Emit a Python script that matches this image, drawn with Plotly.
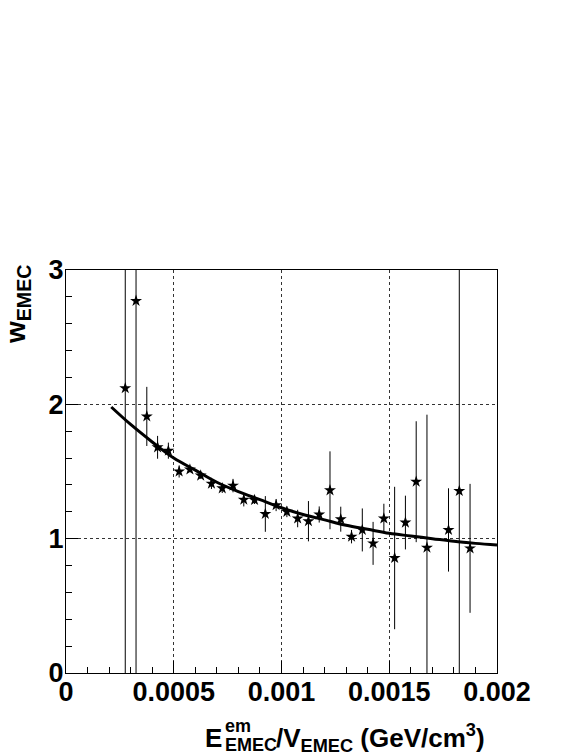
import plotly.graph_objects as go

# the page body keeps an 8px margin, so the figure is drawn 8px in from the corner
PAGE_OFFSET = 8
WIDTH = 581 - PAGE_OFFSET
HEIGHT = 752 - PAGE_OFFSET
FONT = "Liberation Sans, Arial, Helvetica, sans-serif"

# plot frame in page pixels (left, top, right, bottom)
FRAME = (66, 270, 497, 673)

# bin centres of E_EMEC^em / V_EMEC (GeV/cm^3), weights and errors
ENERGY_DENSITY = [
    0.000275, 0.000325, 0.000375, 0.000425, 0.000475, 0.000525, 0.000575,
    0.000625, 0.000675, 0.000725, 0.000775, 0.000825, 0.000875, 0.000925,
    0.000975, 0.001025, 0.001075, 0.001125, 0.001175, 0.001225, 0.001275,
    0.001325, 0.001375, 0.001425, 0.001475, 0.001525, 0.001575, 0.001625,
    0.001675, 0.001775, 0.001825, 0.001875,
]
WEIGHT = [
    2.12, 2.77, 1.91, 1.68, 1.655, 1.50, 1.515,
    1.47, 1.41, 1.375, 1.395, 1.29, 1.288, 1.184,
    1.25, 1.20, 1.15, 1.13, 1.18, 1.36, 1.145,
    1.015, 1.065, 0.965, 1.15, 0.856, 1.12, 1.424,
    0.933, 1.065, 1.355, 0.928,
]
WEIGHT_ERR = [
    5.0, 5.0, 0.22, 0.085, 0.06, 0.045, 0.02,
    0.025, 0.04, 0.035, 0.05, 0.05, 0.03, 0.133,
    0.045, 0.04, 0.065, 0.15, 0.06, 0.29, 0.093,
    0.05, 0.16, 0.16, 0.11, 0.53, 0.20, 0.45,
    0.99, 0.31, 5.0, 0.48,
]

# fitted curve
FIT_X = [
    0.00021, 0.0003, 0.0004, 0.0005, 0.0006, 0.0007, 0.0008, 0.0009, 0.001,
    0.0011, 0.0012, 0.0013, 0.0014, 0.0015, 0.0016, 0.0017, 0.0018, 0.0019,
    0.002,
]
FIT_Y = [
    1.98, 1.85, 1.72, 1.60, 1.51, 1.42, 1.35, 1.29, 1.23,
    1.18, 1.14, 1.10, 1.07, 1.04, 1.02, 1.00, 0.98, 0.965,
    0.953,
]

X_TICKS = [0, 0.0005, 0.001, 0.0015, 0.002]
X_TICK_TEXT = ["0", "0.0005", "0.001", "0.0015", "0.002"]
Y_TICKS = [0, 1, 2, 3]
Y_TICK_TEXT = ["0", "1", "2", "3"]


def to_paper(px: float, py: float) -> tuple[float, float]:
    left, top, right, bottom = FRAME
    return (px - left) / (right - left), (bottom - py) / (bottom - top)


def label(text: str, px: float, py: float, size: int, xanchor: str, **kwargs) -> dict:
    x, y = to_paper(px, py)
    return dict(
        text=text, x=x, y=y, xref="paper", yref="paper", showarrow=False,
        xanchor=xanchor, yanchor="middle", borderpad=0,
        font=dict(family=FONT, size=size, color="black", weight="bold"), **kwargs,
    )


def axis_style(tickvals: list, ticktext: list, rng: list, minor_dtick: float,
               standoff: int) -> dict:
    return dict(
        range=rng, tickmode="array", tickvals=tickvals, ticktext=ticktext,
        ticks="inside", ticklen=12, tickwidth=1, tickcolor="black",
        ticklabelstandoff=standoff,
        showline=True, mirror=True, linecolor="black", linewidth=1,
        showgrid=True, gridcolor="#333333", griddash="dot", gridwidth=1,
        zeroline=False,
        tickfont=dict(family=FONT, size=27, color="black", weight="bold"),
        minor=dict(ticks="inside", ticklen=6, tickwidth=1, tickcolor="black",
                   dtick=minor_dtick, tick0=0, showgrid=False),
    )


fig = go.Figure()
fig.add_trace(go.Scatter(
    x=ENERGY_DENSITY, y=WEIGHT, mode="markers",
    marker=dict(symbol="star", size=9, color="black", line=dict(width=0)),
    error_y=dict(type="data", array=WEIGHT_ERR, visible=True,
                 color="black", thickness=1, width=0),
    showlegend=False,
))
fig.add_trace(go.Scatter(
    x=FIT_X, y=FIT_Y, mode="lines",
    line=dict(color="black", width=3, shape="spline"),
    showlegend=False,
))

left, top, right, bottom = FRAME
fig.update_layout(
    width=WIDTH, height=HEIGHT,
    margin=dict(l=left - PAGE_OFFSET, r=581 - right, t=top - PAGE_OFFSET, b=752 - bottom),
    plot_bgcolor="white", paper_bgcolor="white",
    xaxis=axis_style(X_TICKS, X_TICK_TEXT, [0, 0.002], 0.0001, -5),
    yaxis=axis_style(Y_TICKS, Y_TICK_TEXT, [0, 3], 0.2, -4),
    annotations=[
        label("w<sub>EMEC</sub>", 17, 305, 28, "center", textangle=-90),
        label("E", 223, 738, 26, "right"),
        label("em", 224, 726, 18, "left"),
        label("EMEC", 224, 745, 18, "left"),
        label("/V<sub>EMEC</sub> (GeV/cm<sup>3</sup>)", 275, 738, 26, "left"),
    ],
)

fig.write_html("out.html")
